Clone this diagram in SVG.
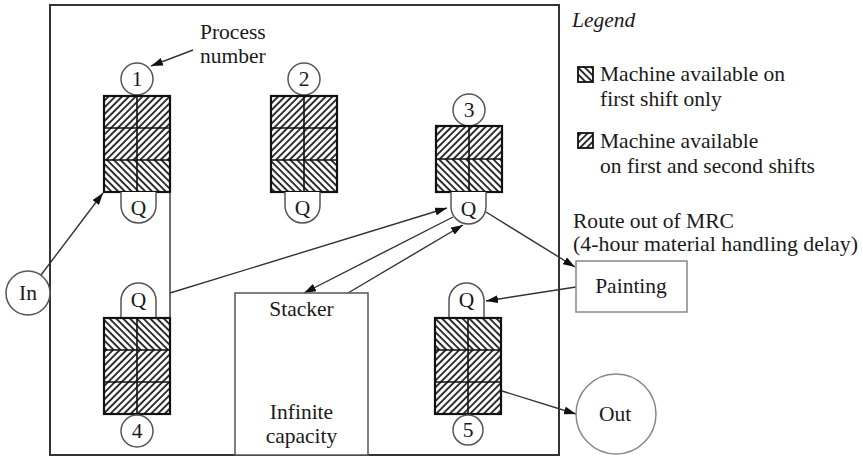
<svg xmlns="http://www.w3.org/2000/svg" width="863" height="457" viewBox="0 0 863 457">
<style>
text{font-family:"Liberation Serif","Times New Roman",serif;font-size:21.5px;fill:#1a1a1a}
.c{text-anchor:middle}
.frame{fill:none;stroke:#333;stroke-width:2}
.box{fill:#fff;stroke:#555;stroke-width:1.5}
.lbox{fill:#fff;stroke:#888;stroke-width:1.5}
.q{fill:#fff;stroke:#555;stroke-width:1.5}
.out{fill:none;stroke:#111;stroke-width:2.2}
.grid{stroke:#111;stroke-width:1.6}
.conn{fill:none;stroke:#333;stroke-width:1.4}
.arr{marker-end:url(#ah)}
</style>
<defs>
<pattern id="hf" width="4.8" height="4.8" patternUnits="userSpaceOnUse" patternTransform="rotate(45)">
<rect width="4.8" height="4.8" fill="#fff"/><line x1="1" y1="0" x2="1" y2="4.8" stroke="#111" stroke-width="1.7"/>
</pattern>
<pattern id="hs" width="4.8" height="4.8" patternUnits="userSpaceOnUse" patternTransform="rotate(-45)">
<rect width="4.8" height="4.8" fill="#fff"/><line x1="1" y1="0" x2="1" y2="4.8" stroke="#111" stroke-width="1.7"/>
</pattern>
<marker id="ah" viewBox="0 0 12 8" refX="12" refY="4" markerWidth="12" markerHeight="8" markerUnits="userSpaceOnUse" orient="auto">
<path d="M0,0 L12,4 L0,8 z" fill="#111"/>
</marker>
</defs>
<rect id="frame" class="frame" x="50" y="5" width="509" height="450"/>
<g id="connectors">
<line class="conn arr" x1="41" y1="275" x2="103" y2="193"/>
<line class="conn arr" x1="193" y1="50" x2="151" y2="66"/>
<polyline class="conn" points="170,192 170,318"/>
<line class="conn arr" x1="170" y1="293" x2="447" y2="208"/>
<line class="conn arr" x1="453" y1="217" x2="304" y2="293"/>
<line class="conn arr" x1="348" y1="293" x2="463" y2="225"/>
<line class="conn arr" x1="486" y1="212" x2="575" y2="267"/>
<line class="conn arr" x1="576" y1="287" x2="486" y2="301"/>
<line class="conn arr" x1="502" y1="391" x2="576" y2="414"/>
</g>
<g id="process-label">
<text x="200" y="39">Process</text>
<text x="200" y="63">number</text>
</g>
<g id="in">
<circle class="box" cx="28" cy="293" r="22"/>
<text class="c" x="28" y="300">In</text>
</g>
<g id="machine1">
<circle class="box" cx="137" cy="79" r="16"/>
<text class="c" x="137" y="86">1</text>
<rect x="104" y="96" width="66" height="32" fill="url(#hf)"/>
<rect x="104" y="128" width="66" height="32" fill="url(#hf)"/>
<rect x="104" y="160" width="66" height="32" fill="url(#hs)"/>
<rect x="104" y="96" width="66" height="96" class="out"/>
<path class="grid" d="M137,96V192M104,128H170M104,160H170"/>
<path class="q" d="M121,192V205.5A17.5,17.5 0 0 0 156,205.5V192"/>
<text class="c" x="138.5" y="215">Q</text>
</g>
<g id="machine2">
<circle class="box" cx="304" cy="79" r="16"/>
<text class="c" x="304" y="86">2</text>
<rect x="271" y="96" width="66" height="32" fill="url(#hf)"/>
<rect x="271" y="128" width="66" height="32" fill="url(#hf)"/>
<rect x="271" y="160" width="66" height="32" fill="url(#hs)"/>
<rect x="271" y="96" width="66" height="96" class="out"/>
<path class="grid" d="M304,96V192M271,128H337M271,160H337"/>
<path class="q" d="M285,192V205.5A17.5,17.5 0 0 0 320,205.5V192"/>
<text class="c" x="302.5" y="215">Q</text>
</g>
<g id="machine3">
<circle class="box" cx="469" cy="110" r="16"/>
<text class="c" x="469" y="117">3</text>
<rect x="436" y="126" width="66" height="33" fill="url(#hf)"/>
<rect x="436" y="159" width="66" height="33" fill="url(#hs)"/>
<rect x="436" y="126" width="66" height="66" class="out"/>
<path class="grid" d="M469,126V192M436,159H502"/>
<path class="q" d="M451,192V206.5A17.5,17.5 0 0 0 486,206.5V192"/>
<text class="c" x="468.5" y="216">Q</text>
</g>
<g id="machine4">
<path class="q" d="M121,318V300.5A17.5,17.5 0 0 1 156,300.5V318"/>
<text class="c" x="138.5" y="307">Q</text>
<rect x="104" y="318" width="66" height="32" fill="url(#hs)"/>
<rect x="104" y="350" width="66" height="32" fill="url(#hf)"/>
<rect x="104" y="382" width="66" height="32" fill="url(#hf)"/>
<rect x="104" y="318" width="66" height="96" class="out"/>
<path class="grid" d="M137,318V414M104,350H170M104,382H170"/>
<circle class="box" cx="137" cy="431" r="16"/>
<text class="c" x="137" y="438">4</text>
</g>
<g id="machine5">
<path class="q" d="M449,318V300.5A17.5,17.5 0 0 1 484,300.5V318"/>
<text class="c" x="466.5" y="307">Q</text>
<rect x="435" y="318" width="66" height="32" fill="url(#hs)"/>
<rect x="435" y="350" width="66" height="32" fill="url(#hf)"/>
<rect x="435" y="382" width="66" height="32" fill="url(#hf)"/>
<rect x="435" y="318" width="66" height="96" class="out"/>
<path class="grid" d="M468,318V414M435,350H501M435,382H501"/>
<circle class="box" cx="468" cy="430" r="15"/>
<text class="c" x="468" y="437">5</text>
</g>
<g id="stacker">
<rect class="box" x="235" y="293" width="133" height="162"/>
<text class="c" x="301.5" y="316">Stacker</text>
<text class="c" x="301.5" y="419">Infinite</text>
<text class="c" x="301.5" y="443">capacity</text>
</g>
<g id="painting">
<rect class="lbox" x="576" y="261" width="111" height="51"/>
<text class="c" x="631" y="293">Painting</text>
</g>
<g id="out">
<circle class="lbox" cx="616" cy="414" r="40"/>
<text class="c" x="615" y="421">Out</text>
</g>
<g id="route-label">
<text x="573" y="228" textLength="161" lengthAdjust="spacingAndGlyphs">Route out of MRC</text>
<text x="573" y="251" textLength="285" lengthAdjust="spacingAndGlyphs">(4-hour material handling delay)</text>
</g>
<g id="legend">
<text x="572" y="27" style="font-style:italic">Legend</text>
<rect x="578" y="67" width="15" height="15" fill="url(#hs)" stroke="#111" stroke-width="1.8"/>
<text x="600" y="81">Machine available on</text>
<text x="600" y="106">first shift only</text>
<rect x="578" y="133" width="15" height="15" fill="url(#hf)" stroke="#111" stroke-width="1.8"/>
<text x="600" y="148">Machine available</text>
<text x="600" y="173">on first and second shifts</text>
</g>
</svg>
